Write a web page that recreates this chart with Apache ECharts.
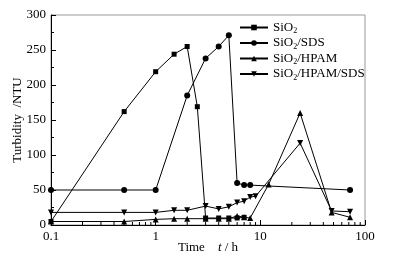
<!DOCTYPE html>
<html>
<head>
<meta charset="utf-8">
<script src="https://cdn.jsdelivr.net/npm/echarts@6/dist/echarts.min.js"></script>
<style>
  html, body { margin: 0; padding: 0; background: #fff; }
  #chart { width: 397px; height: 260px; }
</style>
</head>
<body>
<div id="chart"></div>
<script>
// time points (h) and turbidity (NTU)
const sio2Time = [0.1, 0.5, 1, 1.5, 2, 2.5, 3, 4, 5, 6, 7];
const sio2Val = [5, 162, 219, 244, 255, 169, 10, 10, 10, 10, 11];

const sdsTime = [0.1, 0.5, 1, 2, 3, 4, 5, 6, 7, 8, 72];
const sdsVal = [50, 50, 50, 185, 238, 255, 271, 60, 57, 57, 50];

const hpamTime = [0.1, 0.5, 1, 1.5, 2, 3, 4, 5, 6, 7, 8, 12, 24, 48, 72];
const hpamVal = [5, 5, 8, 9, 9, 9, 9, 9, 13, 11, 10, 58, 160, 18, 11];

const hpamSdsTime = [0.1, 0.5, 1, 1.5, 2, 3, 4, 5, 6, 7, 8, 9, 24, 48, 72];
const hpamSdsVal = [18, 18, 18, 21, 21, 27, 23, 26, 32, 34, 40, 41, 117, 20, 19];

const seriesNames = ['SiO2', 'SiO2/SDS', 'SiO2/HPAM', 'SiO2/HPAM/SDS'];
const minorTickPos = [0.2, 0.3, 0.4, 0.5, 0.6, 0.7, 0.8, 0.9,
  2, 3, 4, 5, 6, 7, 8, 9, 20, 30, 40, 50, 60, 70, 80, 90];

const font = '"Liberation Serif", "Times New Roman", serif';
const zip = (xs, ys) => xs.map((x, i) => [x, ys[i]]);

const chart = echarts.init(document.getElementById('chart'));

function lineSeries(name, data, symbol, size) {
  return {
    name: name,
    type: 'line',
    data: data,
    symbol: symbol,
    symbolSize: size,
    lineStyle: { color: '#000', width: 1 },
    itemStyle: { color: '#000' },
    animation: false,
  };
}

const options = {
  animation: false,
  grid: {
    left: 51, right: 32, top: 15, bottom: 35,
    outerBoundsMode: 'none',
    containLabel: false,
    show: true, borderColor: '#999', borderWidth: 1,
  },
  legend: {
    orient: 'vertical',
    left: 239,
    top: 21,
    padding: 0,
    itemWidth: 28,
    itemHeight: 7,
    itemGap: 1.5,
    data: seriesNames,
    formatter: (n) => n.replace('SiO2', '{t|SiO}{s|2}').replace(/\/(.+)$/, '{t|/$1}'),
    textStyle: {
      fontFamily: font, fontSize: 13, color: '#000',
      rich: {
        t: { fontFamily: font, fontSize: 13, color: '#000' },
        s: { fontFamily: font, fontSize: 8, color: '#000', padding: [7, 0, 0, 0] },
      },
    },
  },
  xAxis: {
    type: 'log',
    logBase: 10,
    min: 0.1,
    max: 100,
    name: '{a|Time}    {i|t} / h',
    nameLocation: 'middle',
    nameGap: 16,
    nameMoveOverlap: false,
    nameTextStyle: {
      fontFamily: font, fontSize: 13, color: '#000',
      rich: {
        a: { fontFamily: font, fontSize: 13, color: '#000' },
        i: { fontFamily: font, fontSize: 13, color: '#000', fontStyle: 'italic' },
      },
    },
    axisLine: { lineStyle: { color: '#000', width: 1 } },
    axisTick: { inside: true, length: 5, lineStyle: { color: '#000' } },
    axisLabel: { fontFamily: font, fontSize: 13, color: '#000', margin: 5 },
    splitLine: { show: false },
  },
  yAxis: {
    type: 'value',
    min: 0,
    max: 300,
    interval: 50,
    name: 'Turbidity  /NTU',
    nameLocation: 'middle',
    nameGap: 27,
    nameMoveOverlap: false,
    nameTextStyle: { fontFamily: font, fontSize: 13, color: '#000' },
    axisLine: { show: true, lineStyle: { color: '#000', width: 1 } },
    axisTick: { inside: true, length: 5, lineStyle: { color: '#000' } },
    minorTick: { show: true, splitNumber: 2, length: 3, lineStyle: { color: '#000' } },
    axisLabel: { fontFamily: font, fontSize: 13, color: '#000', margin: 5 },
    splitLine: { show: false },
  },
  series: [
    lineSeries(seriesNames[0], zip(sio2Time, sio2Val), 'rect', 5),
    lineSeries(seriesNames[1], zip(sdsTime, sdsVal), 'circle', 6),
    lineSeries(seriesNames[2], zip(hpamTime, hpamVal), 'triangle', 6),
    lineSeries(seriesNames[3], zip(hpamSdsTime, hpamSdsVal), 'path://M0,0 L10,0 L5,10 Z', 6),
    {
      // minor log ticks on the time axis
      type: 'custom',
      silent: true,
      data: minorTickPos.map((t) => [t, 0]),
      renderItem: (params, api) => {
        const p = api.coord([api.value(0), 0]);
        return {
          type: 'line',
          shape: { x1: p[0], y1: p[1], x2: p[0], y2: p[1] - 3 },
          style: { stroke: '#000', lineWidth: 1 },
        };
      },
    },
  ],
};

chart.setOption(options);
</script>
</body>
</html>
